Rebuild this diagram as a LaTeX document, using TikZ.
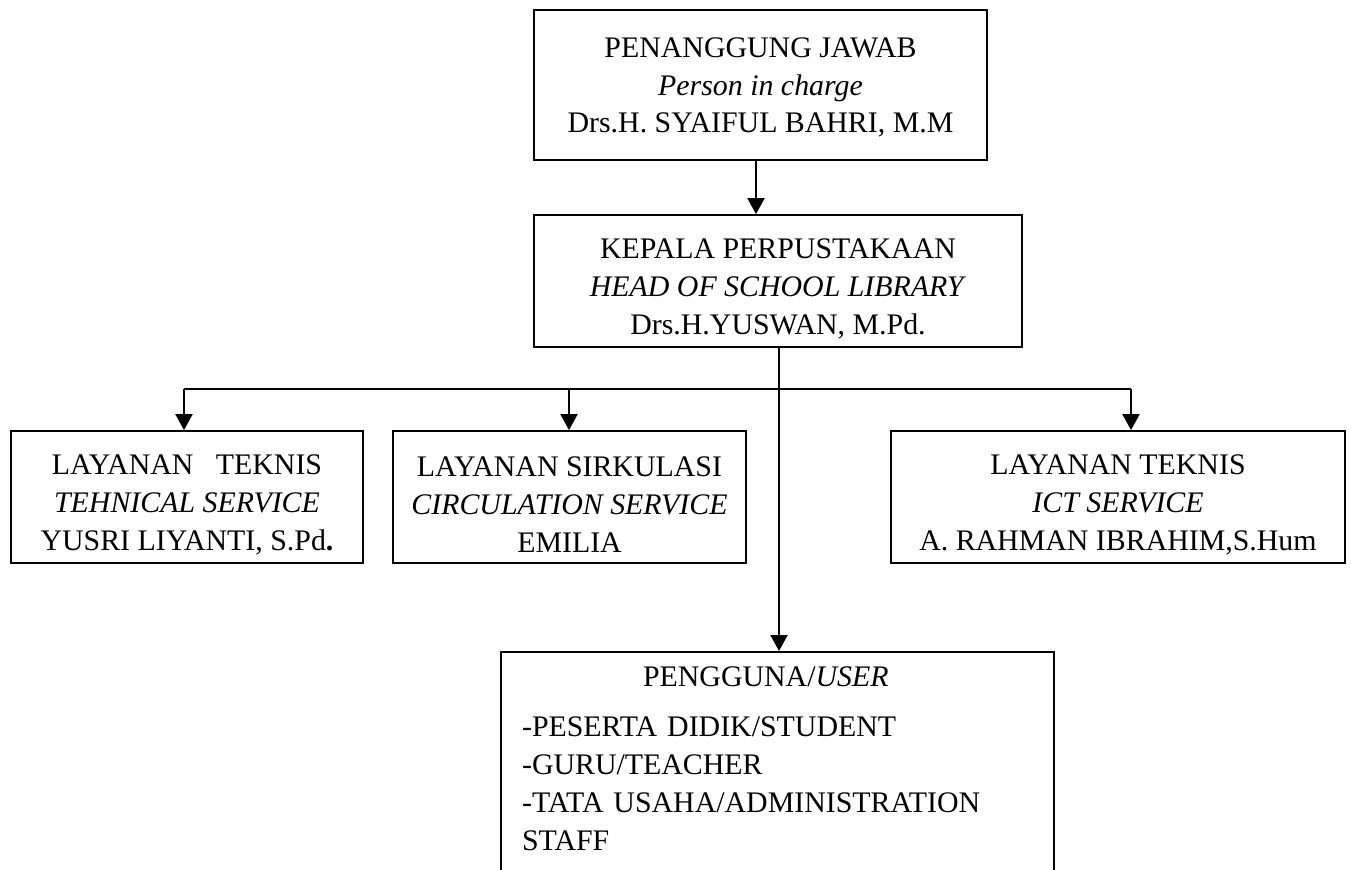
\documentclass[tikz,border=0pt]{standalone}
\usepackage{fontspec}
\setmainfont{Liberation Serif}
\usetikzlibrary{arrows.meta}
\newcommand{\topgap}{\rule{0pt}{20pt}}
\tikzset{
  orgbox/.style={draw, line width=1pt, align=center, inner sep=0pt,
    font=\fontsize{17}{21.5}\selectfont},
  link/.style={line width=1.1pt, -{Triangle[length=0.32cm,width=0.34cm]}},
}

\begin{document}
\begin{tikzpicture}[x=0.02cm,y=-0.02cm]
\path[use as bounding box] (0,0) rectangle (1351,869);
\clip (0,0) rectangle (1351,869);

\node[orgbox, minimum width=9.06cm, minimum height=3cm] (pj) at (760.5,85)
  {\rule{0pt}{14pt}PENANGGUNG JAWAB\\\textit{Person in charge}\\Drs.H. SYAIFUL BAHRI, M.M};
\node[orgbox, minimum width=9.76cm, minimum height=2.64cm] (kp) at (778,281)
  {\topgap KEPALA PERPUSTAKAAN\\\textit{HEAD OF SCHOOL LIBRARY}\\Drs.H.YUSWAN, M.Pd.};

\node[orgbox, minimum width=7.04cm, minimum height=2.64cm] (teknis) at (187,497)
  {\topgap LAYANAN\ \ \ TEKNIS\\\textit{TEHNICAL SERVICE}\\YUSRI LIYANTI, S.Pd\textbf{.}};
\node[orgbox, minimum width=7.06cm, minimum height=2.64cm] (sirkulasi) at (569.5,497)
  {\topgap LAYANAN SIRKULASI\\\textit{CIRCULATION SERVICE}\\EMILIA};
\node[orgbox, minimum width=9.08cm, minimum height=2.64cm] (ict) at (1118,497)
  {\topgap LAYANAN TEKNIS\\\textit{ICT SERVICE}\\A. RAHMAN IBRAHIM,S.Hum};

\node[orgbox, anchor=north, align=left, text width=10.22cm, inner xsep=0.42cm,
  inner ysep=0.3cm] (user) at (777.5,651)
  {\hspace*{2.42cm}PENGGUNA/\textit{USER}\\[0.25cm]
   -PESERTA DIDIK/STUDENT\\
   -GURU/TEACHER\\
   -TATA USAHA/ADMINISTRATION\\
   STAFF\\
   \mbox{}\\\mbox{}};

\coordinate (split) at (779,389);
\coordinate (tap1) at (184,389);
\coordinate (tap2) at (569,389);
\coordinate (tap3) at (1131,389);

\draw[link] ([xshift=-0.09cm]pj.south) -- ([xshift=-0.09cm]pj.south |- kp.north);
\draw[line width=1.1pt] (tap1) -- (tap3);
\draw[link] (tap1) -- (tap1 |- teknis.north);
\draw[link] (tap2) -- (tap2 |- sirkulasi.north);
\draw[link] (tap3) -- (tap3 |- ict.north);
\draw[link] (kp.south -| split) -- (split |- user.north);
\end{tikzpicture}
\end{document}
